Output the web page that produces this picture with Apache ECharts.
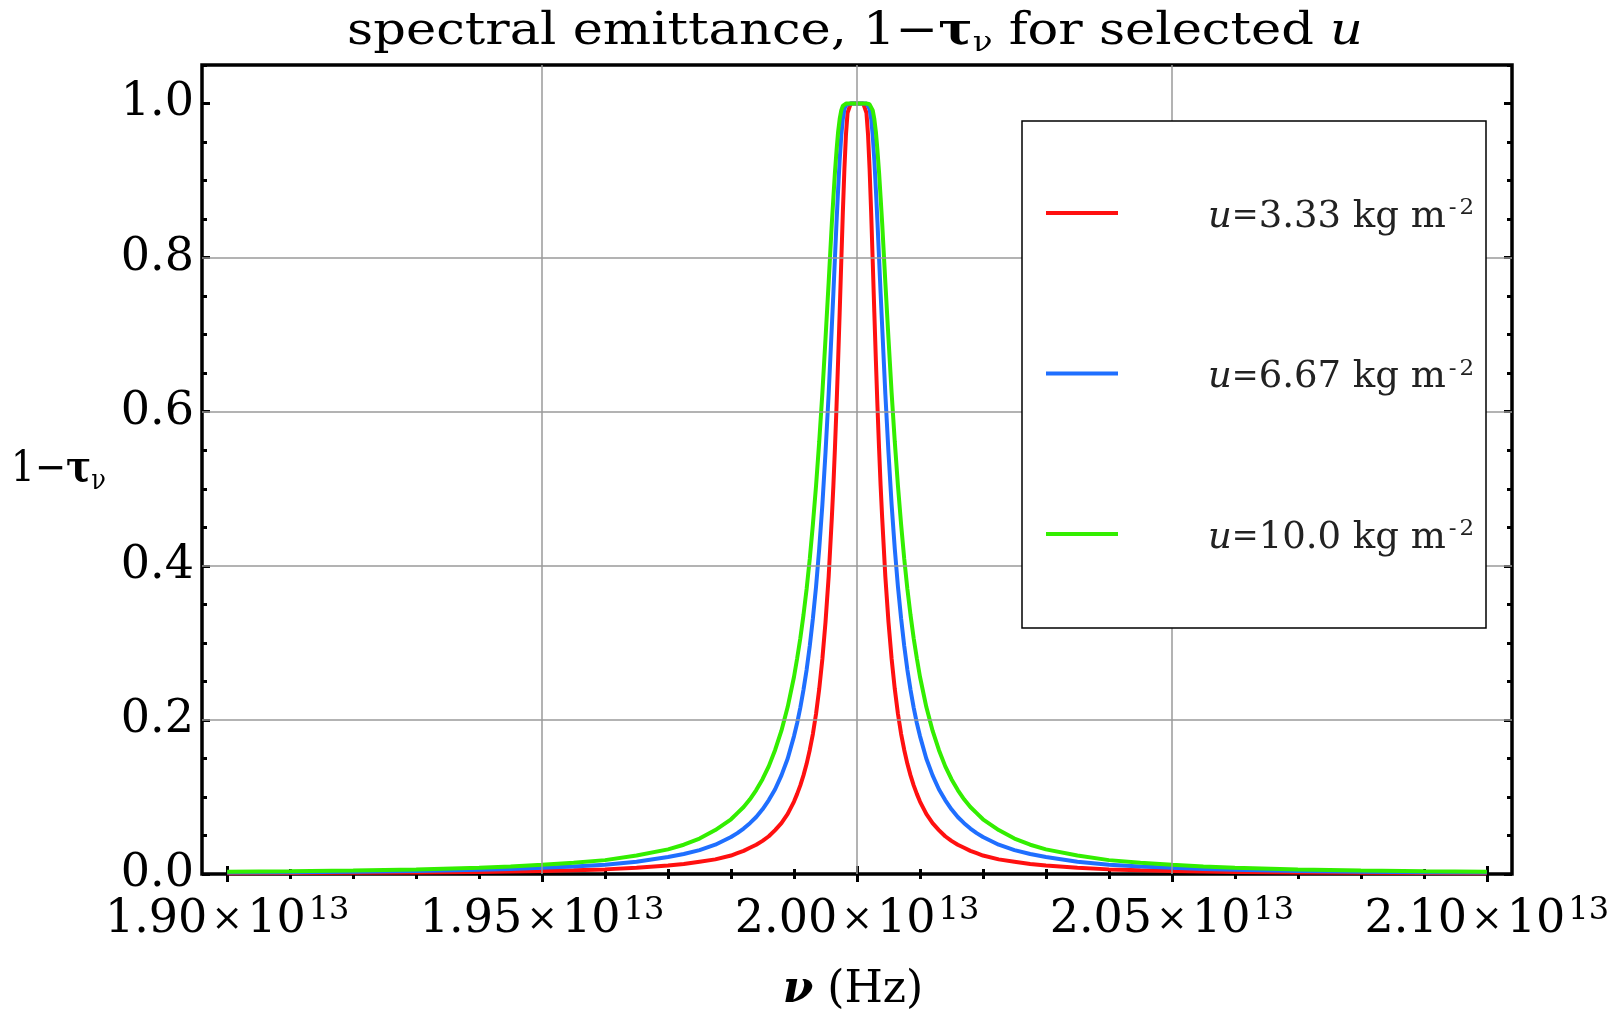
<!DOCTYPE html>
<html><head><meta charset="utf-8">
<script src="https://cdn.jsdelivr.net/npm/echarts@6/dist/echarts.min.js"></script>
<style>html,body{margin:0;padding:0;background:#fff}#c{width:1615px;height:1014px}</style>
</head><body><div id="c"></div>
<script>
// frequency nu in units of 10^13 Hz
const nu = [1.900,1.910,1.920,1.930,1.940,1.945,1.950,1.955,1.960,1.965,1.970,1.9725,1.975,1.9775,1.980,1.981,1.982,1.983,1.984,1.985,1.986,1.987,1.988,1.989,1.990,1.9905,1.991,1.9915,1.992,1.9925,1.993,1.9935,1.994,1.9945,1.995,1.9955,1.996,1.99625,1.9965,1.99675,1.997,1.99725,1.9975,1.99775,1.998,1.99825,1.9985,1.999,1.9995,
  2.000,
  2.0005,2.001,2.0015,2.00175,2.002,2.00225,2.0025,2.00275,2.003,2.00325,2.0035,2.00375,2.004,2.0045,2.005,2.0055,2.006,2.0065,2.007,2.0075,2.008,2.0085,2.009,2.0095,2.010,2.011,2.012,2.013,2.014,2.015,2.016,2.017,2.018,2.019,2.020,2.0225,2.025,2.0275,2.030,2.035,2.040,2.045,2.050,2.055,2.060,2.070,2.080,2.090,2.100];
const red = [0.001,0.0012,0.0015,0.002,0.0027,0.0033,0.004,0.0049,0.006,0.008,0.011,0.013,0.016,0.019,0.024,0.027,0.030,0.034,0.038,0.043,0.049,0.057,0.066,0.078,0.094,0.104,0.115,0.128,0.143,0.161,0.182,0.208,0.240,0.279,0.327,0.386,0.462,0.504,0.553,0.607,0.666,0.729,0.794,0.858,0.915,0.960,0.988,1.000,1.000,
  1.000,
  1.000,1.000,0.988,0.960,0.915,0.858,0.794,0.729,0.666,0.607,0.553,0.504,0.462,0.386,0.327,0.279,0.240,0.208,0.182,0.161,0.143,0.128,0.115,0.104,0.094,0.078,0.066,0.057,0.049,0.043,0.038,0.034,0.030,0.027,0.024,0.019,0.016,0.013,0.011,0.008,0.006,0.0049,0.004,0.0033,0.0027,0.002,0.0015,0.0012,0.001];
const blue = [0.002,0.0024,0.003,0.004,0.0055,0.0065,0.008,0.0097,0.012,0.016,0.022,0.026,0.031,0.038,0.048,0.053,0.059,0.066,0.074,0.084,0.096,0.110,0.128,0.150,0.179,0.196,0.216,0.239,0.265,0.296,0.332,0.373,0.422,0.479,0.547,0.623,0.710,0.754,0.800,0.846,0.888,0.927,0.958,0.980,0.993,0.998,1.000,1.000,1.000,
  1.000,
  1.000,1.000,1.000,0.998,0.993,0.980,0.958,0.927,0.888,0.846,0.800,0.754,0.710,0.623,0.547,0.479,0.422,0.373,0.332,0.296,0.265,0.239,0.216,0.196,0.179,0.150,0.128,0.110,0.096,0.084,0.074,0.066,0.059,0.053,0.048,0.038,0.031,0.026,0.022,0.016,0.012,0.0097,0.008,0.0065,0.0055,0.004,0.003,0.0024,0.002];
const green = [0.003,0.0037,0.0046,0.006,0.0082,0.0097,0.012,0.0145,0.018,0.024,0.032,0.038,0.046,0.057,0.071,0.079,0.087,0.097,0.109,0.123,0.140,0.161,0.186,0.217,0.256,0.280,0.306,0.336,0.370,0.409,0.454,0.504,0.561,0.624,0.695,0.768,0.844,0.878,0.911,0.939,0.963,0.980,0.991,0.997,0.999,1.000,1.000,1.000,1.000,
  1.000,
  1.000,1.000,1.000,1.000,0.999,0.997,0.991,0.980,0.963,0.939,0.911,0.878,0.844,0.768,0.695,0.624,0.561,0.504,0.454,0.409,0.370,0.336,0.306,0.280,0.256,0.217,0.186,0.161,0.140,0.123,0.109,0.097,0.087,0.079,0.071,0.057,0.046,0.038,0.032,0.024,0.018,0.0145,0.012,0.0097,0.0082,0.006,0.0046,0.0037,0.003];

const seriesNames = ['u=3.33 kg m-2','u=6.67 kg m-2','u=10.0 kg m-2'];
const uLabels = ['3.33','6.67','10.0'];
const seriesColors = ['#ff1010','#1f6fff','#33ee00'];
const xTickLabels = [1.90,1.95,2.00,2.05,2.10];
const xMinorTicks = [1.90,1.91,1.92,1.93,1.94,1.95,1.96,1.97,1.98,1.99,2.00,2.01,2.02,2.03,2.04,2.05,2.06,2.07,2.08,2.09,2.10];
const yTickLabels = [0,0.2,0.4,0.6,0.8,1.0];
const yMinorTicks = [0,0.05,0.10,0.15,0.20,0.25,0.30,0.35,0.40,0.45,0.50,0.55,0.60,0.65,0.70,0.75,0.80,0.85,0.90,0.95,1.00,1.05];
const xGrid = [1.95,2.00,2.05];
const yGrid = [0.2,0.4,0.6,0.8];

const FONT = 'DejaVu Serif';
const XMIN = 1.896, XMAX = 2.104, YMIN = 0, YMAX = 1.05;

function xAx(pos, ticks, len, labels) {
  return {
    type: 'value', position: pos, min: XMIN, max: XMAX, offset: 0,
    axisLine: {show: false},
    splitLine: {show: false},
    axisTick: {show: true, inside: true, length: len, customValues: ticks, lineStyle: {color: '#000', width: 3}},
    axisLabel: labels ? {
      show: true, customValues: xTickLabels, margin: 21,
      formatter: v => '{m|' + v.toFixed(2) + '}{x|×}{m|10}{s|13}',
      rich: {
        m: {fontFamily: FONT, fontSize: 46, lineHeight: 50, color: '#000'},
        x: {fontFamily: FONT, fontSize: 38, lineHeight: 50, color: '#000', padding: [0, 4, 0, 4]},
        s: {fontFamily: FONT, fontSize: 32, lineHeight: 16, verticalAlign: 'top', color: '#000', padding: [0, 0, 0, 3]}
      }
    } : {show: false}
  };
}
function yAx(pos, ticks, len, labels) {
  return {
    type: 'value', position: pos, min: YMIN, max: YMAX, offset: 0,
    axisLine: {show: false},
    splitLine: {show: false},
    axisTick: {show: true, inside: true, length: len, customValues: ticks, lineStyle: {color: '#000', width: 3}},
    axisLabel: labels ? {
      show: true, customValues: yTickLabels, margin: 8,
      formatter: v => v.toFixed(1),
      fontFamily: FONT, fontSize: 46, color: '#000'
    } : {show: false}
  };
}

const curves = [red, blue, green].map((arr, k) => ({
  name: seriesNames[k], type: 'line', xAxisIndex: 0, yAxisIndex: 0,
  data: nu.map((x, i) => [x, arr[i]]),
  showSymbol: false, symbol: 'none', smooth: false, z: 3,
  lineStyle: {color: seriesColors[k], width: 4},
  itemStyle: {color: seriesColors[k]},
  animation: false
}));

const gridLines = {
  type: 'line', xAxisIndex: 0, yAxisIndex: 0, data: [], z: 1, silent: true,
  markLine: {
    silent: true, symbol: 'none', animation: false,
    label: {show: false},
    lineStyle: {color: '#9a9a9a', width: 1.5, type: 'solid'},
    emphasis: {disabled: true},
    data: xGrid.map(v => ({xAxis: v})).concat(yGrid.map(v => ({yAxis: v})))
  }
};

const chart = echarts.init(document.getElementById('c'), null, {renderer: 'canvas'});
chart.setOption({
  animation: false,
  backgroundColor: '#fff',
  grid: {left: 202, right: 103, top: 65, bottom: 140, show: true, borderColor: '#000', borderWidth: 3.5, backgroundColor: 'transparent'},
  xAxis: [xAx('bottom', xTickLabels, 8, true), xAx('bottom', xMinorTicks, 5, false), xAx('top', xTickLabels, 8, false), xAx('top', xMinorTicks, 5, false)],
  yAxis: [yAx('left', yTickLabels, 8, true), yAx('left', yMinorTicks, 5, false), yAx('right', yTickLabels, 8, false), yAx('right', yMinorTicks, 5, false)],
  legend: {
    data: seriesNames, orient: 'vertical', left: 1046, top: 197, padding: 0,
    itemWidth: 72, itemHeight: 4, icon: 'rect', itemGap: 122, selectedMode: false, z: 200,
    formatter: name => '{u|u}{e|=}{t|' + uLabels[seriesNames.indexOf(name)] + ' kg m}{s|-}{s|2}',
    textStyle: {
      padding: [8, 0, 0, 85],
      rich: {
        u: {fontFamily: FONT, fontStyle: 'italic', fontSize: 37, lineHeight: 40, color: '#222'},
        e: {fontFamily: FONT, fontSize: 32, lineHeight: 40, color: '#222'},
        t: {fontFamily: FONT, fontSize: 37, lineHeight: 40, color: '#222'},
        s: {fontFamily: FONT, fontSize: 23, lineHeight: 12, verticalAlign: 'top', color: '#222', padding: [0, 0, 0, 3]}
      }
    }
  },
  graphic: [
    {type: 'rect', z: 100, shape: {x: 1022, y: 121, width: 464, height: 507},
     style: {fill: '#fff', stroke: '#000', lineWidth: 1.5}},
    {type: 'text', z: 100, x: 855, y: 33, scaleX: 1.16,
     style: {text: '{r|spectral emittance, 1−}{b|τ}{sub|ν}{r| for selected }{i|u}', align: 'center', verticalAlign: 'middle',
       rich: {
         r: {fontFamily: FONT, fontSize: 44, lineHeight: 50, fill: '#000'},
         b: {fontFamily: FONT, fontSize: 44, lineHeight: 50, fontWeight: 'bold', fill: '#000'},
         sub: {fontFamily: FONT, fontSize: 28, lineHeight: 28, verticalAlign: 'bottom', fill: '#000'},
         i: {fontFamily: FONT, fontSize: 44, lineHeight: 50, fontStyle: 'italic', fill: '#000'}
       }}},
    {type: 'text', z: 100, x: 853, y: 991,
     style: {text: '{bi|ν}{r| (Hz)}', align: 'center', verticalAlign: 'middle',
       rich: {
         bi: {fontFamily: FONT, fontSize: 44, lineHeight: 50, fontWeight: 'bold', fontStyle: 'italic', fill: '#000'},
         r: {fontFamily: FONT, fontSize: 44, lineHeight: 50, fill: '#000'}
       }}},
    {type: 'text', z: 100, x: 11, y: 470, scaleX: 0.89,
     style: {text: '{r|1−}{b|τ}{sub|ν}', align: 'left', verticalAlign: 'middle',
       rich: {
         r: {fontFamily: FONT, fontSize: 42, lineHeight: 50, fill: '#000'},
         b: {fontFamily: FONT, fontSize: 42, lineHeight: 50, fontWeight: 'bold', fill: '#000'},
         sub: {fontFamily: FONT, fontSize: 27, lineHeight: 28, verticalAlign: 'bottom', fill: '#000'}
       }}}
  ],
  series: [gridLines].concat(curves)
});
</script>
</body></html>
